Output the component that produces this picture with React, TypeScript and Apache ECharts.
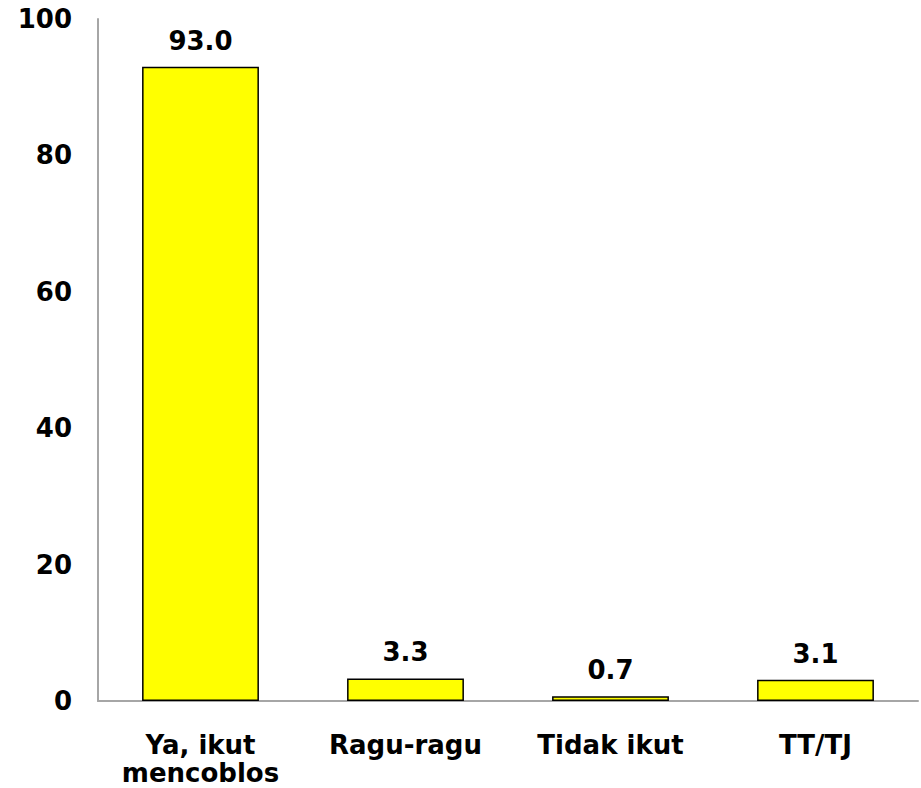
import React, { useEffect, useRef } from "react";
import * as echarts from "echarts";

const categories = ["Ya, ikut\nmencoblos", "Ragu-ragu", "Tidak ikut", "TT/TJ"];
const values = [93.0, 3.3, 0.7, 3.1];
const yTicks = [0, 20, 40, 60, 80, 100];

export default function App() {
  const ref = useRef<HTMLDivElement>(null);
  useEffect(() => {
    if (!ref.current) return;
    const chart = echarts.init(ref.current, undefined, { renderer: "svg" });
    const font = "DejaVu Sans";
    const fs = 26;
    chart.setOption({
      animation: false,
      grid: { left: 98, right: 3, top: 19, bottom: 87, containLabel: false, outerBoundsMode: "none" },
      xAxis: {
        type: "category",
        data: categories,
        axisTick: { show: false },
        axisLine: { lineStyle: { color: "#a6a6a6", width: 2 } },
        axisLabel: {
          interval: 0,
          color: "#000",
          fontFamily: font,
          fontWeight: "bold",
          fontSize: fs,
          lineHeight: 28,
          margin: 30,
        },
      },
      yAxis: {
        type: "value",
        min: yTicks[0],
        max: yTicks[yTicks.length - 1],
        interval: 20,
        splitLine: { show: false },
        axisLine: { show: true, lineStyle: { color: "#a6a6a6", width: 2 } },
        axisTick: { show: false },
        axisLabel: {
          color: "#000",
          fontFamily: font,
          fontWeight: "bold",
          fontSize: fs,
          margin: 26,
        },
      },
      series: [
        {
          type: "bar",
          data: values,
          barWidth: "57%",
          itemStyle: { color: "#ffff00", borderColor: "#000", borderWidth: 1.5 },
          label: {
            show: true,
            position: "top",
            distance: 13,
            color: "#000",
            fontFamily: font,
            fontWeight: "bold",
            fontSize: fs,
            formatter: (p: any) => Number(p.value).toFixed(1),
          },
        },
      ],
    });
    return () => chart.dispose();
  }, []);
  return (
    <div
      ref={ref}
      style={{ position: "fixed", left: 0, top: 0, width: 921, height: 788, background: "#fff" }}
    />
  );
}
